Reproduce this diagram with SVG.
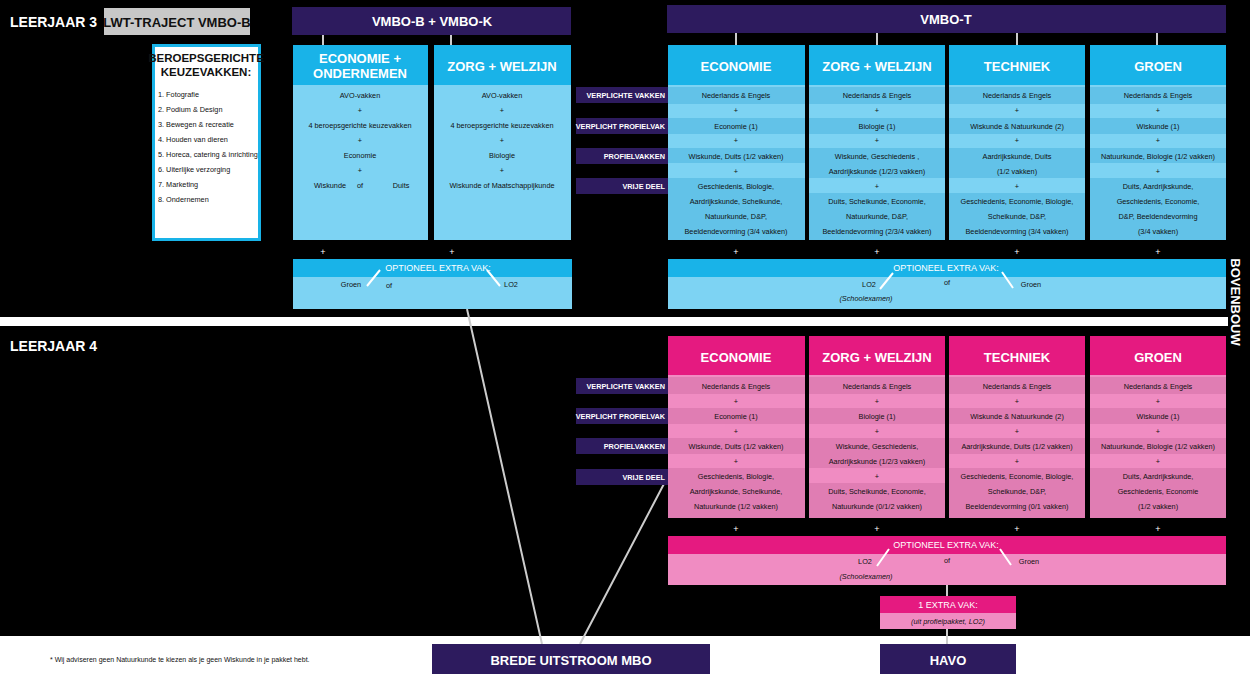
<svg xmlns="http://www.w3.org/2000/svg" width="1250" height="682" viewBox="0 0 1250 682">
<style>
text{font-family:"Liberation Sans",Arial,sans-serif}
.h{font-weight:bold;fill:#fff;text-anchor:middle;font-size:13px}
.hb{font-weight:bold;fill:#fff;font-size:14px}
.t{font-size:7.3px;fill:#111;text-anchor:middle}
.ti{font-size:7.3px;fill:#111;text-anchor:middle;font-style:italic}
.p{font-size:9px;fill:#fff;text-anchor:middle}
.lab{font-size:7.3px;fill:#fff;font-weight:bold;text-anchor:end}
.pur{fill:#2d1b5e}
.cy{fill:#19b3e8}.cyl{fill:#7dd3f3}.cyd{fill:#62c2e8}
.pk{fill:#e51a80}.pkl{fill:#f08cc2}.pkd{fill:#e07db3}
.ln{stroke:#ccc;stroke-width:2;fill:none}
.sl{stroke:#fff;stroke-width:2}
</style>
<rect width="1250" height="682" fill="#fff"/>
<rect width="1250" height="636" fill="#000"/>
<rect x="0" y="317" width="1228" height="9" fill="#fff"/>
<text x="10" y="27" class="hb">LEERJAAR 3</text>
<text x="10" y="351" class="hb">LEERJAAR 4</text>
<text transform="translate(1231,302) rotate(90)" class="h" font-size="12">BOVENBOUW</text>

<g id="connectors">
<path class="ln" d="M323 35V45M451 35V45M736 33V45M877 33V45M1017 33V45M1157 33V45"/>
<path class="ln" d="M467 309L542 644M666 480L580 644M947 585V596M947 629V644"/>
</g>

<g id="lwt"><rect x="104" y="8" width="146" height="27" fill="#c8c8c8"/><text x="177" y="27" text-anchor="middle" font-weight="bold" font-size="13" fill="#111">LWT-TRAJECT VMBO-B</text></g>
<g id="vmbobk"><rect class="pur" x="292" y="7" width="279" height="28"/><text x="432" y="26" class="h">VMBO-B + VMBO-K</text></g>
<g id="vmbot"><rect class="pur" x="667" y="5" width="559" height="28"/><text x="946" y="24" class="h">VMBO-T</text></g>

<g id="keuze"><rect x="153.5" y="45.5" width="106" height="194" fill="#fff" stroke="#19b3e8" stroke-width="3"/>
<text x="206" y="62" text-anchor="middle" font-weight="bold" font-size="11.5" fill="#111">BEROEPSGERICHTE</text>
<text x="206" y="76" text-anchor="middle" font-weight="bold" font-size="11.5" fill="#111">KEUZEVAKKEN:</text>
<g font-size="7.3" fill="#111"><text x="158" y="97">1. Fotografie</text><text x="158" y="112">2. Podium &amp; Design</text><text x="158" y="127">3. Bewegen &amp; recreatie</text><text x="158" y="142">4. Houden van dieren</text><text x="158" y="157">5. Horeca, catering &amp; inrichting</text><text x="158" y="172">6. Uiterlijke verzorging</text><text x="158" y="187">7. Marketing</text><text x="158" y="202">8. Ondernemen</text></g></g>

<g id="b-eco"><rect class="cyl" x="293" y="45" width="135" height="195"/><rect class="cy" x="293" y="45" width="135" height="40"/>
<text x="360" y="63" class="h">ECONOMIE +</text><text x="360" y="78" class="h">ONDERNEMEN</text>
<text x="360" y="98" class="t">AVO-vakken</text><text x="360" y="113" class="t">+</text><text x="360" y="128" class="t">4 beroepsgerichte keuzevakken</text><text x="360" y="143" class="t">+</text><text x="360" y="158" class="t">Economie</text><text x="360" y="173" class="t">+</text><text x="330" y="188" class="t">Wiskunde</text><text x="360" y="188" class="t">of</text><text x="401" y="188" class="t">Duits</text></g>
<g id="b-zorg"><rect class="cyl" x="434" y="45" width="137" height="195"/><rect class="cy" x="434" y="45" width="137" height="40"/>
<text x="502" y="71" class="h">ZORG + WELZIJN</text>
<text x="502" y="98" class="t">AVO-vakken</text><text x="502" y="113" class="t">+</text><text x="502" y="128" class="t">4 beroepsgerichte keuzevakken</text><text x="502" y="143" class="t">+</text><text x="502" y="158" class="t">Biologie</text><text x="502" y="173" class="t">+</text><text x="502" y="188" class="t">Wiskunde   of   Maatschappijkunde</text></g>
<text x="323" y="255" class="p">+</text><text x="452" y="255" class="p">+</text>
<g id="b-opt"><rect class="cyl" x="293" y="259" width="279" height="50"/><rect class="cy" x="293" y="259" width="279" height="18"/>
<text x="438" y="271" class="p" font-size="8">OPTIONEEL EXTRA VAK:</text><text x="351" y="287" class="t">Groen</text><text x="389" y="288" class="t">of</text><text x="511" y="287" class="t">LO2</text>
<path class="sl" d="M367 286L380 270M487 270L500 286"/></g>

<g id="labels3">
<rect class="pur" x="576" y="87" width="92" height="16"/><text x="665" y="98" class="lab">VERPLICHTE VAKKEN</text>
<rect class="pur" x="576" y="118" width="92" height="16"/><text x="665" y="129" class="lab">VERPLICHT PROFIELVAK</text>
<rect class="pur" x="576" y="148" width="92" height="16"/><text x="665" y="159" class="lab">PROFIELVAKKEN</text>
<rect class="pur" x="576" y="178" width="92" height="16"/><text x="665" y="189" class="lab">VRIJE DEEL</text></g>

<g id="t-cols">
<g><rect class="cyl" x="668" y="45" width="137" height="195"/><rect class="cy" x="668" y="45" width="137" height="40"/><rect class="cyd" x="668" y="87" width="137" height="17"/><rect class="cyd" x="668" y="118" width="137" height="16"/><rect class="cyd" x="668" y="148" width="137" height="15"/><rect class="cyd" x="668" y="178" width="137" height="62"/></g>
<g><rect class="cyl" x="809" y="45" width="136" height="195"/><rect class="cy" x="809" y="45" width="136" height="40"/><rect class="cyd" x="809" y="87" width="136" height="17"/><rect class="cyd" x="809" y="118" width="136" height="16"/><rect class="cyd" x="809" y="148" width="136" height="30"/><rect class="cyd" x="809" y="193" width="136" height="47"/></g>
<g><rect class="cyl" x="949" y="45" width="136" height="195"/><rect class="cy" x="949" y="45" width="136" height="40"/><rect class="cyd" x="949" y="87" width="136" height="17"/><rect class="cyd" x="949" y="118" width="136" height="16"/><rect class="cyd" x="949" y="148" width="136" height="30"/><rect class="cyd" x="949" y="193" width="136" height="47"/></g>
<g><rect class="cyl" x="1090" y="45" width="136" height="195"/><rect class="cy" x="1090" y="45" width="136" height="40"/><rect class="cyd" x="1090" y="87" width="136" height="17"/><rect class="cyd" x="1090" y="118" width="136" height="16"/><rect class="cyd" x="1090" y="148" width="136" height="15"/><rect class="cyd" x="1090" y="178" width="136" height="62"/></g>
</g>
<g id="t-eco"><text x="736" y="71" class="h">ECONOMIE</text><text x="736" y="98" class="t">Nederlands &amp; Engels</text><text x="736" y="113" class="t">+</text><text x="736" y="129" class="t">Economie (1)</text><text x="736" y="143" class="t">+</text><text x="736" y="159" class="t">Wiskunde, Duits (1/2 vakken)</text><text x="736" y="174" class="t">+</text><text x="736" y="189" class="t">Geschiedenis, Biologie,</text><text x="736" y="204" class="t">Aardrijkskunde, Scheikunde,</text><text x="736" y="219" class="t">Natuurkunde, D&amp;P,</text><text x="736" y="234" class="t">Beeldendevorming (3/4 vakken)</text></g>
<g id="t-zorg"><text x="877" y="71" class="h">ZORG + WELZIJN</text><text x="877" y="98" class="t">Nederlands &amp; Engels</text><text x="877" y="113" class="t">+</text><text x="877" y="129" class="t">Biologie (1)</text><text x="877" y="143" class="t">+</text><text x="877" y="159" class="t">Wiskunde, Geschiedenis ,</text><text x="877" y="174" class="t">Aardrijkskunde (1/2/3 vakken)</text><text x="877" y="189" class="t">+</text><text x="877" y="204" class="t">Duits, Scheikunde, Economie,</text><text x="877" y="219" class="t">Natuurkunde, D&amp;P,</text><text x="877" y="234" class="t">Beeldendevorming (2/3/4 vakken)</text></g>
<g id="t-tech"><text x="1017" y="71" class="h">TECHNIEK</text><text x="1017" y="98" class="t">Nederlands &amp; Engels</text><text x="1017" y="113" class="t">+</text><text x="1017" y="129" class="t">Wiskunde &amp; Natuurkunde (2)</text><text x="1017" y="143" class="t">+</text><text x="1017" y="159" class="t">Aardrijkskunde, Duits</text><text x="1017" y="174" class="t">(1/2 vakken)</text><text x="1017" y="189" class="t">+</text><text x="1017" y="204" class="t">Geschiedenis, Economie, Biologie,</text><text x="1017" y="219" class="t">Scheikunde, D&amp;P,</text><text x="1017" y="234" class="t">Beeldendevorming (3/4 vakken)</text></g>
<g id="t-groen"><text x="1158" y="71" class="h">GROEN</text><text x="1158" y="98" class="t">Nederlands &amp; Engels</text><text x="1158" y="113" class="t">+</text><text x="1158" y="129" class="t">Wiskunde (1)</text><text x="1158" y="143" class="t">+</text><text x="1158" y="159" class="t">Natuurkunde, Biologie (1/2 vakken)</text><text x="1158" y="174" class="t">+</text><text x="1158" y="189" class="t">Duits, Aardrijkskunde,</text><text x="1158" y="204" class="t">Geschiedenis, Economie,</text><text x="1158" y="219" class="t">D&amp;P, Beeldendevorming</text><text x="1158" y="234" class="t">(3/4 vakken)</text></g>
<text x="736" y="255" class="p">+</text><text x="877" y="255" class="p">+</text><text x="1017" y="255" class="p">+</text><text x="1158" y="255" class="p">+</text>
<g id="t-opt"><rect class="cyl" x="668" y="259" width="558" height="50"/><rect class="cy" x="668" y="259" width="558" height="18"/>
<text x="946" y="271" class="p" font-size="8">OPTIONEEL EXTRA VAK:</text><text x="869" y="287" class="t">LO2</text><text x="947" y="285" class="t">of</text><text x="1031" y="287" class="t">Groen</text><text x="866" y="301" class="ti">(Schoolexamen)</text>
<path class="sl" d="M880 289L893 273M1002 272L1013 288"/></g>

<g id="labels4">
<rect class="pur" x="576" y="378" width="92" height="16"/><text x="665" y="389" class="lab">VERPLICHTE VAKKEN</text>
<rect class="pur" x="576" y="408" width="92" height="16"/><text x="665" y="419" class="lab">VERPLICHT PROFIELVAK</text>
<rect class="pur" x="576" y="438" width="92" height="16"/><text x="665" y="449" class="lab">PROFIELVAKKEN</text>
<rect class="pur" x="576" y="469" width="92" height="16"/><text x="665" y="480" class="lab">VRIJE DEEL</text></g>

<g id="h-cols">
<g><rect class="pkl" x="668" y="336" width="137" height="182"/><rect class="pk" x="668" y="336" width="137" height="39"/><rect class="pkd" x="668" y="377" width="137" height="17"/><rect class="pkd" x="668" y="408" width="137" height="16"/><rect class="pkd" x="668" y="438" width="137" height="16"/><rect class="pkd" x="668" y="468" width="137" height="50"/></g>
<g><rect class="pkl" x="809" y="336" width="136" height="182"/><rect class="pk" x="809" y="336" width="136" height="39"/><rect class="pkd" x="809" y="377" width="136" height="17"/><rect class="pkd" x="809" y="408" width="136" height="16"/><rect class="pkd" x="809" y="438" width="136" height="30"/><rect class="pkd" x="809" y="483" width="136" height="35"/></g>
<g><rect class="pkl" x="949" y="336" width="136" height="182"/><rect class="pk" x="949" y="336" width="136" height="39"/><rect class="pkd" x="949" y="377" width="136" height="17"/><rect class="pkd" x="949" y="408" width="136" height="16"/><rect class="pkd" x="949" y="438" width="136" height="16"/><rect class="pkd" x="949" y="468" width="136" height="50"/></g>
<g><rect class="pkl" x="1090" y="336" width="136" height="182"/><rect class="pk" x="1090" y="336" width="136" height="39"/><rect class="pkd" x="1090" y="377" width="136" height="17"/><rect class="pkd" x="1090" y="408" width="136" height="16"/><rect class="pkd" x="1090" y="438" width="136" height="16"/><rect class="pkd" x="1090" y="468" width="136" height="50"/></g>
</g>
<g id="h-eco"><text x="736" y="362" class="h">ECONOMIE</text><text x="736" y="389" class="t">Nederlands &amp; Engels</text><text x="736" y="404" class="t">+</text><text x="736" y="419" class="t">Economie (1)</text><text x="736" y="434" class="t">+</text><text x="736" y="449" class="t">Wiskunde, Duits (1/2 vakken)</text><text x="736" y="464" class="t">+</text><text x="736" y="479" class="t">Geschiedenis, Biologie,</text><text x="736" y="494" class="t">Aardrijkskunde, Scheikunde,</text><text x="736" y="509" class="t">Natuurkunde (1/2 vakken)</text></g>
<g id="h-zorg"><text x="877" y="362" class="h">ZORG + WELZIJN</text><text x="877" y="389" class="t">Nederlands &amp; Engels</text><text x="877" y="404" class="t">+</text><text x="877" y="419" class="t">Biologie (1)</text><text x="877" y="434" class="t">+</text><text x="877" y="449" class="t">Wiskunde, Geschiedenis,</text><text x="877" y="464" class="t">Aardrijkskunde (1/2/3 vakken)</text><text x="877" y="479" class="t">+</text><text x="877" y="494" class="t">Duits, Scheikunde, Economie,</text><text x="877" y="509" class="t">Natuurkunde (0/1/2 vakken)</text></g>
<g id="h-tech"><text x="1017" y="362" class="h">TECHNIEK</text><text x="1017" y="389" class="t">Nederlands &amp; Engels</text><text x="1017" y="404" class="t">+</text><text x="1017" y="419" class="t">Wiskunde &amp; Natuurkunde (2)</text><text x="1017" y="434" class="t">+</text><text x="1017" y="449" class="t">Aardrijkskunde, Duits (1/2 vakken)</text><text x="1017" y="464" class="t">+</text><text x="1017" y="479" class="t">Geschiedenis, Economie, Biologie,</text><text x="1017" y="494" class="t">Scheikunde, D&amp;P,</text><text x="1017" y="509" class="t">Beeldendevorming (0/1 vakken)</text></g>
<g id="h-groen"><text x="1158" y="362" class="h">GROEN</text><text x="1158" y="389" class="t">Nederlands &amp; Engels</text><text x="1158" y="404" class="t">+</text><text x="1158" y="419" class="t">Wiskunde (1)</text><text x="1158" y="434" class="t">+</text><text x="1158" y="449" class="t">Natuurkunde, Biologie (1/2 vakken)</text><text x="1158" y="464" class="t">+</text><text x="1158" y="479" class="t">Duits, Aardrijkskunde,</text><text x="1158" y="494" class="t">Geschiedenis, Economie</text><text x="1158" y="509" class="t">(1/2 vakken)</text></g>
<text x="736" y="532" class="p">+</text><text x="877" y="532" class="p">+</text><text x="1017" y="532" class="p">+</text><text x="1158" y="532" class="p">+</text>
<g id="h-opt"><rect class="pkl" x="668" y="536" width="558" height="49"/><rect class="pk" x="668" y="536" width="558" height="18"/>
<text x="946" y="548" class="p" font-size="8">OPTIONEEL EXTRA VAK:</text><text x="865" y="564" class="t">LO2</text><text x="947" y="563" class="t">of</text><text x="1029" y="564" class="t">Groen</text><text x="866" y="579" class="ti">(Schoolexamen)</text>
<path class="sl" d="M877 566L889 549M1000 549L1011 565"/></g>
<g id="extra"><rect class="pkl" x="880" y="596" width="136" height="33"/><rect class="pk" x="880" y="596" width="136" height="17"/>
<text x="948" y="608" class="p" font-size="8">1 EXTRA VAK:</text><text x="948" y="624" class="ti">(uit profielpakket, LO2)</text></g>
<g id="havo"><rect class="pur" x="880" y="644" width="136" height="30"/><text x="948" y="665" class="h" font-size="14">HAVO</text></g>
<g id="mbo"><rect class="pur" x="432" y="644" width="278" height="30"/><text x="571" y="665" class="h" font-size="14">BREDE UITSTROOM MBO</text></g>
<text x="50" y="662" font-size="7" fill="#111">* Wij adviseren geen Natuurkunde te kiezen als je geen Wiskunde in je pakket hebt.</text>
</svg>
